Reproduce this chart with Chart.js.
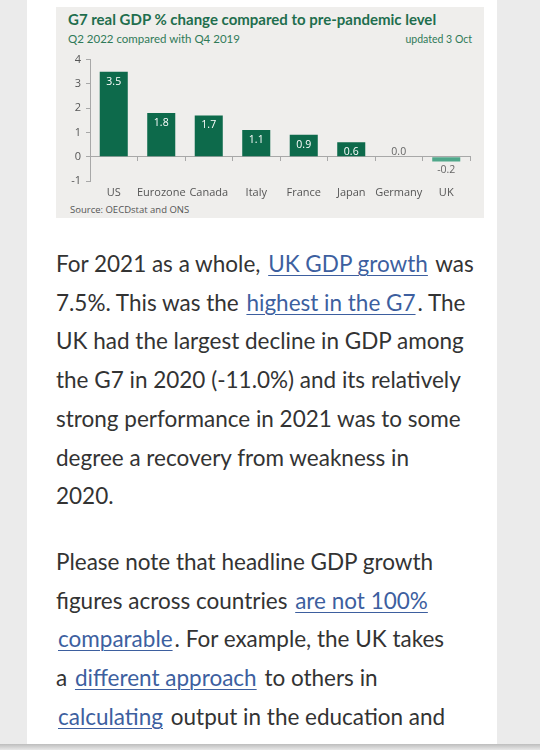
<!DOCTYPE html>
<html>
<head>
<meta charset="utf-8">
<script src="https://cdn.jsdelivr.net/npm/chart.js@4"></script>
<style>
  html, body { margin: 0; padding: 0; }
  body { width: 540px; height: 750px; overflow: hidden; background: #ebebeb; position: relative; }
  .card { position: absolute; left: 27px; top: 0; width: 470px; height: 750px; background: #fff; }
  .chart-box { position: absolute; left: 56px; top: 7px; width: 428px; height: 211px; background: #efeeec; }
  .title { position: absolute; left: 12px; top: 3px; font: bold 15px Lato, sans-serif; color: #1f6e4e; white-space: nowrap; }
  .sub { position: absolute; left: 12px; top: 25px; font: 11.5px Lato, sans-serif; color: #2f7a58; }
  .upd { position: absolute; right: 12px; top: 26px; font: 10.5px Lato, sans-serif; color: #2f7a58; }
  .src { position: absolute; left: 14px; top: 196px; font: 9.5px "Open Sans", sans-serif; color: #555; }
  #gdpChart { position: absolute; left: 0; top: 41px; }
  .text { position: absolute; left: 56px; top: 245px; width: 460px; font: 22.5px Lato, sans-serif; color: #333; line-height: 38.7px; white-space: nowrap; }
  .text p { margin: 0 0 27px 0; }
  .text a { color: #3d5f9f; text-decoration: underline; text-underline-offset: 3px; text-decoration-thickness: 1px; margin: 0 2px; }
  .text a.first { margin-left: 2px; }
  .shade { position: absolute; left: 0; top: 744px; width: 540px; height: 6px; background: linear-gradient(#bdbdbd, #e8e8e8); }
</style>
</head>
<body>
<div class="card"></div>
<div class="chart-box">
  <div class="title">G7 real GDP % change compared to pre-pandemic level</div>
  <div class="sub">Q2 2022 compared with Q4 2019</div>
  <div class="upd">updated 3 Oct</div>
  <canvas id="gdpChart" width="428" height="152"></canvas>
  <div class="src">Source: OECDstat and ONS</div>
</div>
<div class="text">
  <p>For 2021 as a whole, <a>UK GDP growth</a> was<br>7.5%. This was the <a>highest in the G7</a>. The<br>UK had the largest decline in GDP among<br>the G7 in 2020 (-11.0%) and its relatively<br>strong performance in 2021 was to some<br>degree a recovery from weakness in<br>2020.</p>
  <p>Please note that headline GDP growth<br>figures across countries <a>are not 100%</a><br><a class="first">comparable</a>. For example, the UK takes<br>a <a>different approach</a> to others in<br><a class="first">calculating</a> output in the education and<br>health systems. This has resulted in the</p>
</div>
<div class="shade"></div>

<script>
// chart data
const countries = ["US", "Eurozone", "Canada", "Italy", "France", "Japan", "Germany", "UK"];
const gdpChange = [3.5, 1.8, 1.7, 1.1, 0.9, 0.6, 0.0, -0.2];
const yTicks = [-1, 0, 1, 2, 3, 4];

const darkGreen = "#0d6a4b";
const lightGreen = "#4fa78a";
const axisGrey = "#a8a8a8";

// value labels on the bars
const barLabels = {
  id: "barLabels",
  afterDatasetsDraw(chart) {
    const c = chart.ctx;
    const meta = chart.getDatasetMeta(0);
    c.save();
    c.font = "10.5px 'Open Sans', sans-serif";
    c.textAlign = "center";
    c.textBaseline = "middle";
    meta.data.forEach((bar, i) => {
      const v = gdpChange[i];
      const txt = v.toFixed(1);
      if (v > 0) {
        c.fillStyle = "#ffffff";
        c.fillText(txt, bar.x, bar.y + 10);
      } else if (v === 0) {
        c.fillStyle = "#666";
        c.fillText(txt, bar.x, bar.y - 5);
      } else {
        c.fillStyle = "#666";
        c.fillText(txt, bar.x, bar.y + 8);
      }
    });
    c.restore();
  }
};

new Chart(document.getElementById("gdpChart"), {
  type: "bar",
  data: {
    labels: countries,
    datasets: [{
      data: gdpChange,
      backgroundColor: gdpChange.map(v => v < 0 ? lightGreen : darkGreen),
      categoryPercentage: 1,
      barPercentage: 0.59
    }]
  },
  options: {
    responsive: false,
    animation: false,
    devicePixelRatio: 1,
    layout: { padding: { top: 11, right: 14, bottom: 19, left: 0 } },
    plugins: { legend: { display: false }, tooltip: { enabled: false } },
    scales: {
      x: {
        position: { y: 0 },
        grid: { offset: true, drawOnChartArea: false, tickLength: 4, color: axisGrey },
        border: { color: axisGrey },
        ticks: {
          padding: 26, color: "#555", autoSkip: false, minRotation: 0, maxRotation: 0,
          font: { family: "Open Sans", size: 11 }
        }
      },
      y: {
        min: -1,
        max: 4,
        afterFit(scale) { scale.width = 34; },
        afterBuildTicks(scale) { scale.ticks = yTicks.map(v => ({ value: v })); },
        grid: { drawOnChartArea: false, tickLength: 4, color: axisGrey },
        border: { color: axisGrey },
        ticks: { padding: 5, color: "#555", font: { family: "Open Sans", size: 11 } }
      }
    }
  },
  plugins: [barLabels]
});
</script>
</body>
</html>
